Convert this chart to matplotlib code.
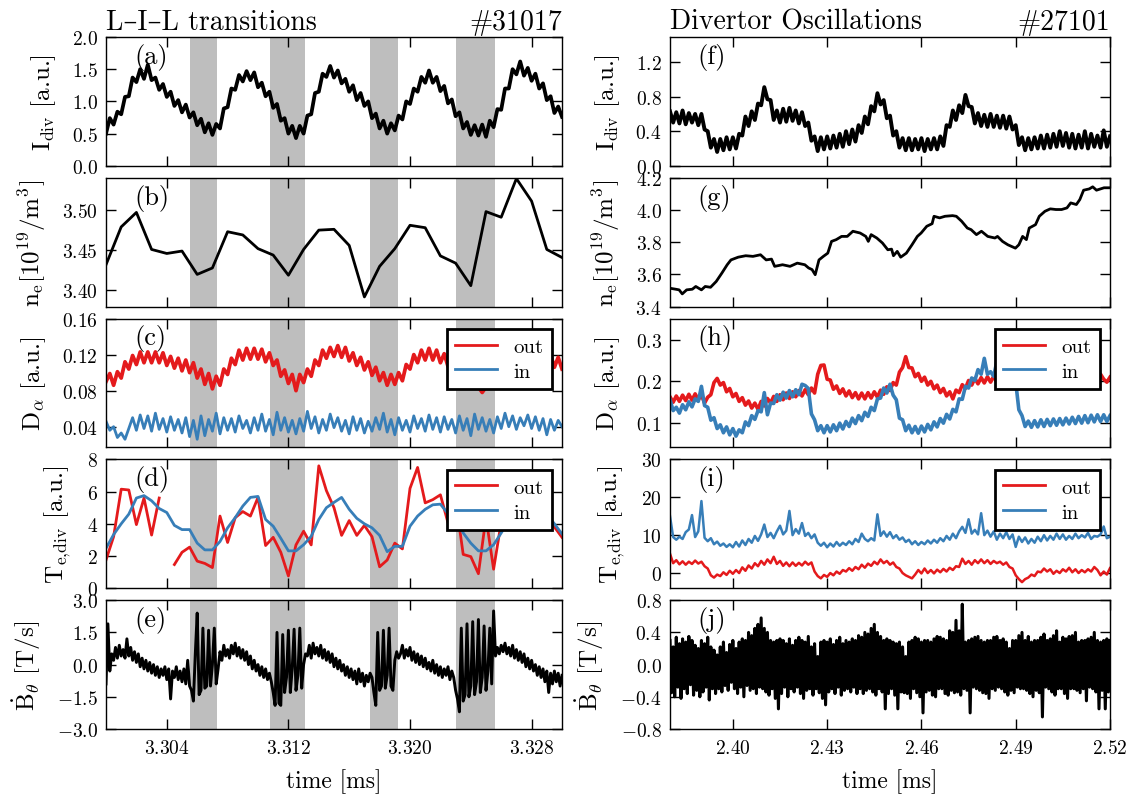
import numpy as np
import matplotlib
matplotlib.use("Agg")
import matplotlib.pyplot as plt

# ------------------------------------------------------------------
# Shot #31017 : L-I-L transitions
# ------------------------------------------------------------------
t_range_left = (3.300, 3.330)
left_xticks = [3.304, 3.312, 3.320, 3.328]
i_phase_windows = [(3.3055, 3.3073), (3.3108, 3.3131),
                   (3.3174, 3.3192), (3.3230, 3.3256)]

idiv_left = [
    0.50, 0.74, 0.64, 0.84, 0.80, 1.07, 1.08, 1.37, 1.30, 1.50,
    1.35, 1.57, 1.33, 1.37, 1.18, 1.27, 1.07, 1.15, 0.93, 1.02,
    0.83, 0.95, 0.75, 0.83, 0.63, 0.73, 0.52, 0.66, 0.48, 0.65,
    0.58, 0.89, 0.91, 1.20, 1.18, 1.41, 1.31, 1.47, 1.33, 1.45,
    1.22, 1.29, 1.08, 1.15, 0.90, 0.96, 0.70, 0.74, 0.50, 0.62,
    0.43, 0.62, 0.50, 0.78, 0.80, 1.13, 1.15, 1.43, 1.38, 1.55,
    1.37, 1.48, 1.28, 1.35, 1.15, 1.25, 1.02, 1.13, 0.93, 1.00,
    0.74, 0.81, 0.58, 0.70, 0.50, 0.66, 0.55, 0.78, 0.72, 1.00,
    0.96, 1.20, 1.15, 1.38, 1.29, 1.48, 1.29, 1.38, 1.16, 1.24,
    0.97, 1.03, 0.77, 0.83, 0.58, 0.68, 0.48, 0.63, 0.47, 0.64,
    0.45, 0.70, 0.60, 0.88, 0.87, 1.20, 1.20, 1.50, 1.42, 1.62,
    1.40, 1.52, 1.32, 1.43, 1.20, 1.28, 1.02, 1.08, 0.82, 0.92, 0.76,
]

ne_left = [
    3.432, 3.479, 3.497, 3.451, 3.446, 3.449, 3.420, 3.428, 3.473, 3.469,
    3.452, 3.444, 3.419, 3.451, 3.475, 3.476, 3.456, 3.392, 3.430, 3.452,
    3.481, 3.478, 3.443, 3.434, 3.406, 3.498, 3.491, 3.539, 3.511, 3.451,
    3.441,
]

dalpha_out_left = [
    0.090, 0.099, 0.086, 0.101, 0.094, 0.112, 0.104, 0.119, 0.109, 0.123,
    0.111, 0.123, 0.111, 0.123, 0.111, 0.122, 0.108, 0.118, 0.105, 0.116,
    0.102, 0.114, 0.100, 0.111, 0.094, 0.104, 0.087, 0.099, 0.082, 0.096,
    0.086, 0.104, 0.098, 0.116, 0.109, 0.125, 0.114, 0.127, 0.115, 0.127,
    0.115, 0.126, 0.112, 0.122, 0.108, 0.114, 0.096, 0.103, 0.088, 0.098,
    0.080, 0.098, 0.089, 0.104, 0.096, 0.114, 0.108, 0.125, 0.116, 0.128,
    0.118, 0.130, 0.117, 0.128, 0.113, 0.122, 0.108, 0.117, 0.103, 0.112,
    0.097, 0.106, 0.091, 0.100, 0.086, 0.098, 0.087, 0.100, 0.091, 0.109,
    0.104, 0.120, 0.111, 0.125, 0.114, 0.127, 0.114, 0.125, 0.111, 0.121,
    0.107, 0.116, 0.101, 0.110, 0.094, 0.103, 0.088, 0.098, 0.084, 0.078,
    0.084, 0.098, 0.090, 0.108, 0.102, 0.119, 0.110, 0.124, 0.113, 0.125,
    0.113, 0.124, 0.112, 0.123, 0.110, 0.121, 0.108, 0.120, 0.106, 0.117, 0.104,
]

dalpha_in_left = [
    0.046, 0.036, 0.040, 0.028, 0.033, 0.026, 0.038, 0.050, 0.036, 0.053,
    0.038, 0.052, 0.035, 0.055, 0.037, 0.049, 0.034, 0.051, 0.036, 0.048,
    0.033, 0.050, 0.029, 0.047, 0.026, 0.052, 0.030, 0.048, 0.035, 0.055,
    0.032, 0.050, 0.036, 0.049, 0.034, 0.052, 0.038, 0.047, 0.033, 0.050,
    0.036, 0.054, 0.035, 0.048, 0.031, 0.056, 0.036, 0.050, 0.034, 0.047,
    0.032, 0.049, 0.035, 0.057, 0.038, 0.051, 0.033, 0.048, 0.036, 0.054,
    0.039, 0.050, 0.035, 0.047, 0.032, 0.051, 0.036, 0.049, 0.033, 0.046,
    0.035, 0.050, 0.037, 0.055, 0.034, 0.048, 0.031, 0.050, 0.036, 0.047,
    0.034, 0.052, 0.038, 0.049, 0.035, 0.053, 0.037, 0.050, 0.034, 0.051,
    0.037, 0.048, 0.033, 0.052, 0.036, 0.049, 0.030, 0.054, 0.037, 0.050,
    0.035, 0.048, 0.033, 0.051, 0.038, 0.055, 0.040, 0.052, 0.037, 0.050,
    0.041, 0.053, 0.038, 0.051, 0.036, 0.049, 0.031, 0.048, 0.036, 0.047, 0.040,
]

te_out_left = [
    1.75, 3.2, 6.15, 6.1, 3.95, 5.6, 3.3, 5.6, np.nan, 1.47,
    2.23, 2.55, 1.68, 1.54, 1.28, 4.48, 2.84, 4.38, 4.76, 4.48,
    5.64, 2.65, 3.16, 2.23, 0.76, 2.69, 3.54, 2.69, 7.6, 6.06,
    5.0, 3.28, 4.2, 3.28, 3.9, 3.2, 1.33, 1.75, 2.8, 2.44,
    6.2, 7.5, 5.3, 5.5, 5.8, 4.06, 5.5, 2.1, 1.96, 0.9,
    4.4, 1.18, 4.1, 5.0, 4.5, 5.2, 4.8, 4.6, 4.2, 3.8, 3.16,
]

te_in_left = [
    2.48, 3.33, 4.0, 4.6, 5.6, 5.75, 5.43, 4.95, 4.7, 3.9,
    3.64, 3.64, 2.8, 2.38, 2.38, 2.9, 3.75, 4.38, 5.1, 5.64,
    5.7, 4.27, 3.85, 3.1, 2.32, 2.32, 2.7, 3.22, 4.27, 5.0,
    5.33, 5.64, 4.9, 4.34, 4.0, 3.75, 3.28, 2.27, 2.6, 2.6,
    3.85, 4.48, 4.9, 5.18, 5.22, 4.63, 4.38, 3.43, 2.8, 2.32,
    2.32, 2.7, 3.43, 4.2, 4.8, 5.2, 5.3, 5.0, 4.6, 4.0, 3.37,
]

bdot_left = [
    -0.9, 1.9, -0.3, 0.5, 0.2, 0.8, 0.3, 0.9, 0.4, 0.7, 0.3, 1.2, 0.4, 0.8, 0.2, 0.6,
    0.1, 0.5, -0.1, 0.3, -0.2, 0.2, -0.3, 0.1, -0.4, 0.0, -0.5, -0.1, -0.6, -0.2,
    -0.5, -0.1, -0.7, -0.2, -1.6, -0.3, -0.6, -0.1, -0.7, -0.3, -0.8, -0.2, -0.9, 0.2, -1.0,
    -1.2, -1.7, 0.5, 2.4, -1.4, -1.2, 1.7, -1.1, -1.0, 1.6, -1.0, 0.0, 1.7, -0.9, -0.2,
    0.6, 0.2, 0.9, 0.4, 0.7, 0.3, 0.9, 0.5, 1.0, 0.4, 0.8, 0.3, 0.7, 0.2, 0.6, 0.0,
    0.4, -0.2, 0.2, -0.3, 0.0, -0.5, -0.1, -0.6, -0.2, -0.7, -0.4,
    -0.8, -1.3, -1.9, 1.5, -1.8, -1.9, 1.4, -1.3, -0.6, 1.6, -1.3, -0.2, 1.65, -1.2,
    -0.5, 1.7, -1.1, 0.0, 0.5,
    0.4, 0.9, 0.3, 1.0, 0.5, 0.8, 0.4, 0.9, 0.3, 0.7, 0.2, 0.6, 0.1, 0.5, -0.1, 0.3,
    -0.2, 0.2, -0.3, 0.0, -0.5, -0.1, -0.6, -0.2, -0.7, -0.3, -0.9, -0.2, -0.8, -0.4,
    -1.0, -0.5, -0.8, -0.4,
    -0.6, -1.3, -1.9, 1.5, -1.2, -1.0, 1.6, -1.1, -0.5, 1.7, -1.0, -1.2, 0.2, 0.6, 0.3,
    0.5, 0.9, 0.3, 0.7, 0.4, 0.8, 0.2, 0.6, 0.1, 0.5, 0.0, 0.4, -0.1, 0.3, -0.2, 0.1,
    -0.3, 0.2, -0.4, 0.0, -0.5, -0.1, -0.6, -0.2, -0.5, -0.1, -0.7, -0.3,
    -0.6, -1.2, -1.6, -2.2, 1.7, -1.7, -1.4, 1.9, -1.5, -1.0, 2.0, -1.4, -0.8, 2.1,
    -1.3, -0.6, 1.8, -1.2, -0.3, 1.7, -0.9, 2.5,
    0.4, 0.8, 0.5, 0.9, 0.6, 1.0, 0.5, 0.8, 0.4, 0.9, 0.3, 0.7, 0.2, 0.6, 0.1, 0.5,
    -0.1, 0.3, -0.2, 0.2, -0.3, 0.0, -0.5, -0.1, -0.6, -0.2, -0.8, -0.3, -1.3, -0.4,
    -0.9, -0.3, -0.8, -0.4, -1.0, -0.5,
]

# ------------------------------------------------------------------
# Shot #27101 : divertor oscillations
# ------------------------------------------------------------------
t_range_right = (2.380, 2.520)
right_xticks = [2.40, 2.43, 2.46, 2.49, 2.52]

idiv_right = [
    0.63, 0.50, 0.62, 0.49, 0.64, 0.48, 0.61, 0.50, 0.60, 0.47,
    0.60, 0.42, 0.40, 0.21, 0.31, 0.16, 0.31, 0.18, 0.33, 0.19,
    0.33, 0.20, 0.37, 0.35, 0.57, 0.46, 0.63, 0.53, 0.72, 0.70,
    0.91, 0.77, 0.76, 0.53, 0.64, 0.50, 0.66, 0.51, 0.67, 0.52,
    0.64, 0.49, 0.62, 0.46, 0.50, 0.29, 0.34, 0.17, 0.33, 0.19,
    0.34, 0.20, 0.35, 0.21, 0.37, 0.22, 0.40, 0.25, 0.42, 0.28,
    0.47, 0.38, 0.57, 0.48, 0.69, 0.63, 0.84, 0.71, 0.76, 0.55,
    0.58, 0.35, 0.40, 0.21, 0.32, 0.18, 0.32, 0.18, 0.31, 0.19,
    0.32, 0.17, 0.31, 0.19, 0.32, 0.19, 0.34, 0.23, 0.47, 0.45,
    0.64, 0.53, 0.70, 0.61, 0.82, 0.69, 0.68, 0.49, 0.61, 0.46,
    0.59, 0.45, 0.60, 0.45, 0.58, 0.44, 0.58, 0.43, 0.57, 0.42,
    0.47, 0.24, 0.33, 0.18, 0.32, 0.19, 0.33, 0.20, 0.35, 0.20,
    0.36, 0.21, 0.37, 0.22, 0.40, 0.23, 0.38, 0.21, 0.37, 0.20,
    0.36, 0.21, 0.40, 0.20, 0.37, 0.22, 0.35, 0.21, 0.41, 0.22, 0.34,
]

ne_right_time = [
    2.3800, 2.3818, 2.3829, 2.3839, 2.3853, 2.3871, 2.3882, 2.3900, 2.3912, 2.3929,
    2.3947, 2.3965, 2.3982, 2.3994, 2.4017, 2.4041, 2.4064, 2.4088, 2.4106, 2.4123,
    2.4133, 2.4158, 2.4182, 2.4205, 2.4229, 2.4241, 2.4252, 2.4262, 2.4274, 2.4288,
    2.4302, 2.4314, 2.4329, 2.4346, 2.4364, 2.4382, 2.4405, 2.4423, 2.4431, 2.4440,
    2.4458, 2.4476, 2.4493, 2.4505, 2.4511, 2.4523, 2.4534, 2.4552, 2.4570, 2.4587,
    2.4599, 2.4617, 2.4634, 2.4640, 2.4658, 2.4675, 2.4699, 2.4711, 2.4728, 2.4746,
    2.4758, 2.4775, 2.4791, 2.4811, 2.4834, 2.4842, 2.4858, 2.4875, 2.4899, 2.4910,
    2.4922, 2.4934, 2.4943, 2.4963, 2.4975, 2.4993, 2.5010, 2.5028, 2.5046, 2.5063,
    2.5075, 2.5093, 2.5104, 2.5116, 2.5134, 2.5145, 2.5157, 2.5181, 2.5200,
]
ne_right = [
    3.514, 3.508, 3.504, 3.479, 3.504, 3.508, 3.525, 3.504, 3.525, 3.520,
    3.556, 3.608, 3.660, 3.690, 3.707, 3.716, 3.712, 3.722, 3.690, 3.695,
    3.650, 3.660, 3.650, 3.670, 3.660, 3.640, 3.630, 3.598, 3.690, 3.712,
    3.732, 3.805, 3.816, 3.836, 3.836, 3.868, 3.857, 3.836, 3.805, 3.847,
    3.826, 3.795, 3.753, 3.757, 3.716, 3.743, 3.707, 3.732, 3.784, 3.836,
    3.857, 3.899, 3.915, 3.961, 3.951, 3.961, 3.965, 3.961, 3.930, 3.888,
    3.878, 3.847, 3.868, 3.836, 3.826, 3.836, 3.805, 3.784, 3.763, 3.784,
    3.836, 3.816, 3.888, 3.909, 3.961, 3.992, 4.007, 4.003, 4.003, 4.013,
    4.044, 4.034, 4.065, 4.123, 4.131, 4.144, 4.123, 4.138, 4.138,
]

dalpha_out_right = [
    .163, .150, .165, .152, .167, .154, .169, .155, .170, .156,
    .167, .148, .162, .168, .197, .207, .191, .197, .175, .183,
    .163, .171, .152, .161, .143, .153, .136, .148, .133, .152,
    .141, .159, .148, .164, .152, .168, .156, .172, .159, .175,
    .163, .178, .165, .180, .168, .184, .172, .217, .238, .239,
    .205, .203, .181, .189, .171, .182, .165, .177, .161, .173,
    .158, .172, .158, .173, .160, .175, .162, .179, .169, .187,
    .178, .197, .191, .222, .233, .259, .233, .232, .211, .219,
    .200, .210, .191, .200, .182, .191, .173, .183, .165, .175,
    .158, .179, .173, .192, .183, .202, .191, .207, .194, .209,
    .196, .211, .198, .212, .198, .213, .199, .214, .200, .215,
    .200, .215, .201, .214, .200, .213, .199, .212, .198, .211,
    .198, .212, .199, .213, .200, .214, .200, .213, .199, .212,
    .198, .212, .199, .213, .200, .215, .201, .217, .205, .198, .210,
]

dalpha_in_right = [
    .156, .130, .138, .124, .144, .132, .151, .139, .158, .152,
    .188, .142, .138, .107, .113, .087, .096, .077, .091, .072,
    .087, .069, .084, .077, .103, .094, .118, .109, .130, .127,
    .173, .120, .148, .147, .168, .155, .174, .160, .178, .163,
    .180, .168, .193, .190, .183, .122, .108, .082, .094, .077,
    .094, .079, .096, .082, .100, .086, .104, .092, .112, .099,
    .118, .106, .126, .116, .138, .130, .158, .160, .184, .172,
    .193, .167, .156, .112, .108, .082, .095, .077, .092, .076,
    .093, .079, .097, .084, .103, .091, .111, .100, .121, .110,
    .133, .127, .158, .157, .188, .184, .208, .202, .228, .217,
    .255, .217, .223, .212, .248, .242, .270, .262, .273, .222,
    .198, .132, .118, .092, .105, .090, .106, .091, .108, .092,
    .109, .094, .110, .095, .111, .096, .112, .098, .114, .099,
    .116, .100, .118, .101, .119, .103, .120, .104, .120, .104, .118,
]

te_out_right = [
    5.1, 2.6, 3.4, 2.3, 3.1, 2.2, 3.0, 2.4, 3.3, 2.5,
    3.0, 1.8, 1.2, -0.6, -1.2, -0.4, -0.8, 0.2, -0.5, 0.6,
    -0.2, 0.8, 0.0, 1.5, 0.6, 2.0, 1.2, 2.6, 1.8, 3.2,
    2.2, 3.6, 2.6, 4.3, 2.4, 3.2, 1.9, 2.8, 1.8, 2.8,
    1.9, 2.7, 2.0, 3.0, 2.2, 2.8, 0.4, -0.8, -1.4, -0.5,
    -1.0, 0.0, -0.6, 0.4, -0.2, 0.8, 0.4, 1.3, 0.6, 1.6,
    1.0, 2.2, 1.4, 2.5, 1.9, 3.0, 2.3, 3.6, 2.6, 3.2,
    2.2, 2.8, 1.6, 1.2, 0.0, -0.6, -1.0, -1.4, -0.4, 0.8,
    -0.1, 1.2, 0.0, 0.8, -0.1, 0.9, 0.2, 1.1, 0.4, 1.4,
    0.8, 1.8, 1.6, 3.8, 2.4, 3.2, 2.2, 3.4, 2.6, 3.6,
    2.6, 3.4, 2.4, 3.2, 2.6, 3.0, 2.2, 2.8, 1.6, 1.2,
    -0.6, -1.6, -2.4, -1.6, -1.2, -0.4, -0.8, 0.4, 0.2, 1.2,
    0.4, 1.0, -0.2, 0.6, 0.0, 1.0, 0.4, 1.4, 0.2, 1.0,
    0.0, 0.8, 0.2, 1.0, 0.4, 1.6, 0.8, -0.6, 0.4, -0.4, 1.3,
]

te_in_right = [
    15.0, 9.5, 8.8, 9.6, 9.0, 10.8, 11.5, 15.3, 9.5, 11.0,
    19.0, 9.3, 8.4, 9.2, 7.6, 8.3, 7.2, 7.8, 6.9, 7.6,
    6.8, 8.2, 7.0, 8.6, 7.4, 9.0, 8.0, 9.8, 8.5, 10.2,
    12.8, 9.5, 10.6, 9.2, 11.0, 12.5, 10.2, 11.2, 16.4, 10.0,
    11.6, 10.4, 13.2, 9.8, 10.6, 9.2, 10.2, 8.0, 7.2, 8.0,
    6.8, 7.8, 7.0, 8.2, 7.2, 8.0, 7.4, 8.4, 7.6, 9.0,
    8.2, 10.4, 9.0, 8.4, 9.2, 8.6, 15.5, 9.8, 11.0, 9.6,
    10.8, 9.2, 10.0, 8.8, 9.4, 8.2, 8.8, 7.6, 8.4, 7.4,
    8.2, 7.6, 8.6, 7.8, 8.8, 8.0, 9.2, 8.4, 9.8, 8.8,
    10.4, 9.2, 11.0, 12.2, 10.6, 14.2, 10.4, 11.4, 10.2, 15.8,
    10.0, 11.2, 9.6, 11.0, 8.8, 10.4, 9.2, 10.8, 9.0, 10.2,
    6.9, 9.6, 8.2, 9.4, 7.8, 9.0, 8.0, 9.6, 8.4, 10.0,
    8.6, 9.8, 8.8, 10.4, 9.0, 10.2, 8.8, 9.8, 9.0, 10.4,
    9.2, 10.0, 9.4, 10.6, 9.0, 9.8, 9.6, 10.2, 12.3, 9.2, 9.6,
]

bdot_right = [
    0.30, -0.35, 0.22, -0.40, 0.34, -0.28, 0.26, -0.42, 0.32, -0.30,
    0.28, -0.36, 0.35, -0.25, 0.30, -0.38, 0.24, -0.32, 0.20, -0.40,
    0.30, -0.34, 0.26, -0.28, 0.34, -0.44, 0.22, -0.30, 0.18, -0.36,
    0.12, -0.30, 0.22, -0.34, 0.28, -0.26, 0.15, -0.32, 0.25, -0.22,
    0.30, -0.30, 0.20, -0.36, 0.28, -0.28, 0.32, -0.40, 0.30, -0.26,
    0.40, -0.32, 0.36, -0.30, 0.45, -0.36, 0.50, -0.28, 0.58, -0.30,
    0.45, -0.34, 0.40, -0.38, 0.30, -0.30, 0.28, -0.42, 0.30, -0.55,
    0.32, -0.36, 0.30, -0.28, 0.26, -0.40, 0.32, -0.30, 0.24, -0.34,
    0.30, -0.28, 0.34, -0.36, 0.30, -0.42, 0.28, -0.32, 0.35, -0.30,
    0.22, -0.38, 0.26, -0.30, 0.10, -0.35, 0.28, -0.42, 0.30, -0.50,
    0.28, -0.34, 0.32, -0.30, 0.25, -0.36, 0.30, -0.28, 0.34, -0.38,
    0.26, -0.32, 0.30, -0.30, 0.28, -0.34, 0.32, -0.28, 0.30, -0.36,
    0.36, -0.30, 0.34, -0.36, 0.40, -0.32, 0.38, -0.30, 0.45, -0.34,
    0.50, -0.38, 0.40, -0.30, 0.35, -0.34, 0.30, -0.55, 0.32, -0.36,
    0.30, -0.30, 0.28, -0.38, 0.26, -0.55, 0.28, -0.34, 0.22, -0.35,
    0.10, -0.36, 0.28, -0.42, 0.30, -0.30, 0.34, -0.35, 0.32, -0.40,
    0.28, -0.60, 0.30, -0.34, 0.30, -0.32, 0.28, -0.38, 0.32, -0.40,
    0.35, -0.30, 0.34, -0.30, 0.32, -0.36, 0.30, -0.38, 0.42, -0.32,
    0.40, -0.35, 0.55, -0.34, 0.42, -0.38, 0.75, -0.30, 0.28, -0.32,
    0.30, -0.60, 0.32, -0.28, 0.34, -0.30, 0.35, -0.32, 0.30, -0.35,
    0.28, -0.36, 0.30, -0.42, 0.30, -0.30, 0.34, -0.32, 0.35, -0.28,
    0.30, -0.30, 0.32, -0.34, 0.28, -0.38, 0.20, -0.32, 0.30, -0.35,
    0.30, -0.28, 0.36, -0.30, 0.40, -0.30, 0.30, -0.32, 0.35, -0.36,
    0.28, -0.40, 0.30, -0.32, 0.30, -0.35, 0.34, -0.65, 0.38, -0.28,
    0.30, -0.30, 0.32, -0.34, 0.36, -0.38, 0.42, -0.30, 0.28, -0.30,
    0.34, -0.36, 0.32, -0.42, 0.35, -0.30, 0.36, -0.30, 0.40, -0.32,
    0.28, -0.35, 0.30, -0.30, 0.30, -0.45, 0.32, -0.28, 0.34, -0.30,
    0.40, -0.34, 0.30, -0.55, 0.28, -0.32, 0.30, -0.55, 0.32, -0.34,
    0.30,
]

# ------------------------------------------------------------------
# Styling
# ------------------------------------------------------------------
RED = "#e41a1c"
BLUE = "#377eb8"
SHADE = "#bebebe"

plt.rcParams.update({
    "font.family": "serif",
    "font.serif": ["cmr10"],
    "mathtext.fontset": "cm",
    "axes.formatter.use_mathtext": True,
    "font.size": 14,
    "axes.linewidth": 1.0,
    "xtick.direction": "in",
    "ytick.direction": "in",
    "xtick.top": True,
    "ytick.right": True,
    "xtick.major.size": 7,
    "ytick.major.size": 7,
    "xtick.major.width": 1.0,
    "ytick.major.width": 1.0,
    "xtick.minor.visible": False,
    "ytick.minor.visible": False,
    "xtick.major.pad": 7,
    "ytick.major.pad": 6,
    "xtick.labelsize": 14,
    "ytick.labelsize": 14,
    "axes.labelsize": 18,
    "legend.fontsize": 15,
})

W, H = 1143, 803
fig = plt.figure(figsize=(W / 100, H / 100), dpi=100)

row_top, row_h, row_gap = 38, 128.8, 12
col_left = (106, 562)
col_right = (670, 1110)


def make_axes(col, row):
    x0, x1 = col
    top = row_top + row * (row_h + row_gap)
    return fig.add_axes([x0 / W, 1 - (top + row_h) / H, (x1 - x0) / W, row_h / H])


axL = [make_axes(col_left, r) for r in range(5)]
axR = [make_axes(col_right, r) for r in range(5)]


def series_time(trange, values):
    return np.linspace(trange[0], trange[1], len(values))


# ---- left column ----
axL[0].plot(series_time(t_range_left, idiv_left), idiv_left, color="k", lw=2.7)
axL[1].plot(series_time(t_range_left, ne_left), ne_left, color="k", lw=2.0)
axL[2].plot(series_time(t_range_left, dalpha_out_left), dalpha_out_left, color=RED, lw=2.7, label="out")
axL[2].plot(series_time(t_range_left, dalpha_in_left), dalpha_in_left, color=BLUE, lw=2.0, label="in")
axL[3].plot(series_time(t_range_left, te_out_left), te_out_left, color=RED, lw=2.0, label="out")
axL[3].plot(series_time(t_range_left, te_in_left), te_in_left, color=BLUE, lw=2.0, label="in")
axL[4].plot(series_time(t_range_left, bdot_left), bdot_left, color="k", lw=2.1)

# ---- right column ----
axR[0].plot(series_time(t_range_right, idiv_right), idiv_right, color="k", lw=2.8)
axR[1].plot(ne_right_time, ne_right, color="k", lw=2.0)
axR[2].plot(series_time(t_range_right, dalpha_out_right), dalpha_out_right, color=RED, lw=2.6, label="out")
axR[2].plot(series_time(t_range_right, dalpha_in_right), dalpha_in_right, color=BLUE, lw=2.6, label="in")
axR[3].plot(series_time(t_range_right, te_out_right), te_out_right, color=RED, lw=1.8, label="out")
axR[3].plot(series_time(t_range_right, te_in_right), te_in_right, color=BLUE, lw=1.8, label="in")
axR[4].plot(series_time(t_range_right, bdot_right), bdot_right, color="k", lw=2.2)

# shaded intermediate-phase windows
for ax in axL:
    for a, b in i_phase_windows:
        ax.axvspan(a, b, color=SHADE, lw=0, zorder=0)

ylabels = [
    r"I$_{\mathrm{div}}$ [a.u.]",
    r"n$_{\mathrm{e}}$[10$^{19}$/m$^{3}$]",
    r"D$_{\alpha}$ [a.u.]",
    r"T$_{\mathrm{e{,}div}}$ [a.u.]",
    r"$\dot{\mathrm{B}}_{\theta}$ [T/s]",
]

left_ylims = [(0.0, 2.0), (3.38, 3.54), (0.017, 0.16), (0.0, 8.0), (-3.0, 3.0)]
left_yticks = [[0.0, 0.5, 1.0, 1.5, 2.0], [3.40, 3.45, 3.50],
               [0.04, 0.08, 0.12, 0.16], [0, 2, 4, 6, 8],
               [-3.0, -1.5, 0.0, 1.5, 3.0]]
right_ylims = [(0.0, 1.49), (3.4, 4.2), (0.042, 0.35), (-4.0, 30.0), (-0.8, 0.8)]
right_yticks = [[0.0, 0.4, 0.8, 1.2], [3.4, 3.6, 3.8, 4.0, 4.2],
                [0.1, 0.2, 0.3], [0, 10, 20, 30],
                [-0.8, -0.4, 0.0, 0.4, 0.8]]

letters_left = ["(a)", "(b)", "(c)", "(d)", "(e)"]
letters_right = ["(f)", "(g)", "(h)", "(i)", "(j)"]

for axes, trange, xticks, ylims, yticks, letters in (
        (axL, t_range_left, left_xticks, left_ylims, left_yticks, letters_left),
        (axR, t_range_right, right_xticks, right_ylims, right_yticks, letters_right)):
    for i, ax in enumerate(axes):
        ax.set_xlim(*trange)
        ax.set_xticks(xticks)
        ax.set_ylim(*ylims[i])
        ax.set_yticks(yticks[i])
        ax.ticklabel_format(useOffset=False)
        ax.set_ylabel(ylabels[i], labelpad=10)
        ax.text(0.062, 0.955, letters[i], transform=ax.transAxes,
                ha="left", va="top", fontsize=19)
        if i < 4:
            ax.tick_params(labelbottom=False)
        else:
            ax.set_xlabel("time [ms]", fontsize=17, labelpad=8)

for ax in (axL[2], axL[3], axR[2], axR[3]):
    leg = ax.legend(loc="upper right", fancybox=False, framealpha=1.0,
                    edgecolor="k", handlelength=2.0, borderpad=0.4,
                    labelspacing=0.3, handletextpad=0.8)
    leg.get_frame().set_linewidth(2.0)
    for line in leg.get_lines():
        line.set_linewidth(2.0)

title_fam = ["cmr10", "DejaVu Serif"]
axL[0].set_title("L\u2013I\u2013L transitions", loc="left", fontsize=20, pad=6, family=title_fam)
axL[0].set_title("#31017", loc="right", fontsize=20, pad=6, family=title_fam)
axR[0].set_title("Divertor Oscillations", loc="left", fontsize=20, pad=6, family=title_fam)
axR[0].set_title("#27101", loc="right", fontsize=20, pad=6, family=title_fam)

fig.savefig("out.png", dpi=100)
